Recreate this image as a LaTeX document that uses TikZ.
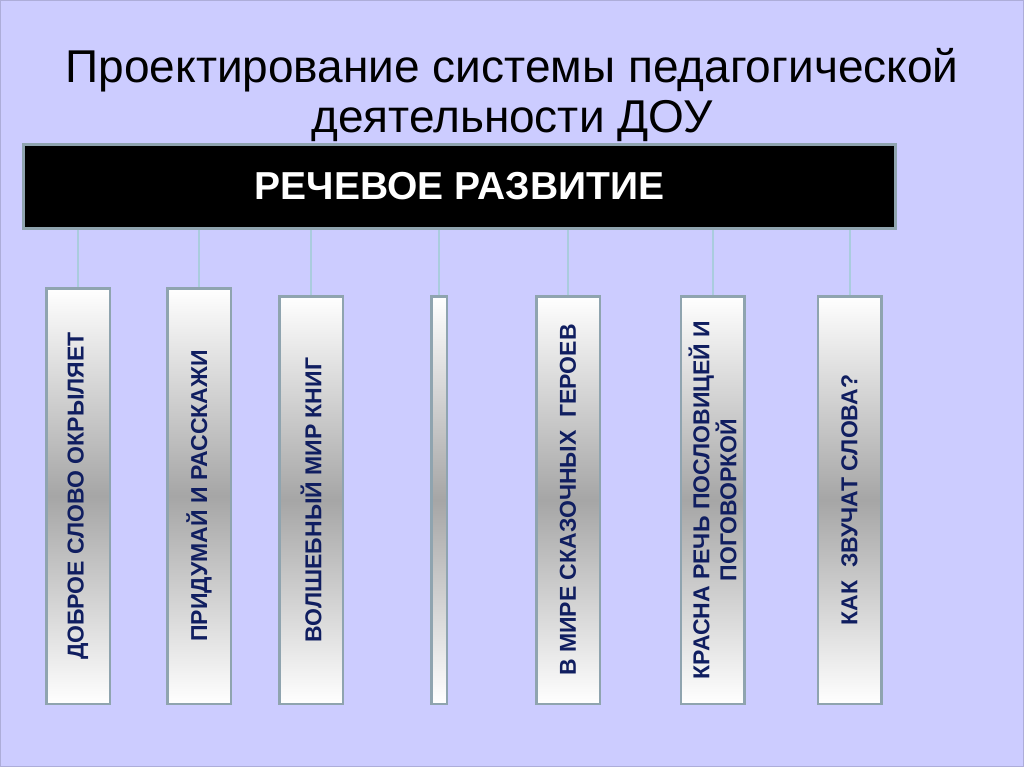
\documentclass[tikz,border=0pt]{standalone}
\usepackage{fontspec}
\setmainfont{Liberation Sans}
\usetikzlibrary{positioning}
\definecolor{slidebg}{RGB}{204,204,255}
\definecolor{frameline}{RGB}{143,164,175}
\definecolor{linkline}{RGB}{170,204,222}
\definecolor{navytext}{RGB}{16,30,96}
\begin{document}
\begin{tikzpicture}[x=1pt, y=-1pt,
    topic/.style={draw=frameline, line width=2.5pt, rotate=90, align=center,
        top color=white, bottom color=white, middle color=black!35,
        text=navytext, font=\fontsize{23}{27}\selectfont\bfseries,
        minimum height=63.5pt, inner sep=0pt},
    link/.style={draw=linkline, line width=2pt}]
    \fill[slidebg] (0,0) rectangle (1024,767);
    \draw[slidebg!85!black, line width=0.8pt] (0.4,0.4) rectangle (1023.6,766.6);
    \node (title_a) [anchor=base, font=\fontsize{46}{50}\selectfont] at (512,83) {Проектирование системы педагогической};
    \node (title_b) [anchor=base, font=\fontsize{46}{50}\selectfont] at (512,133) {деятельности ДОУ};
    \node (speech) [draw=frameline, line width=3pt, fill=black, text=white, minimum width=872pt, minimum height=84pt, font=\fontsize{39}{40}\selectfont\bfseries] at (459.5,186.5) {РЕЧЕВОЕ РАЗВИТИЕ};
    \node (kind_word) [topic, minimum width=415.5pt] at (78,496) {ДОБРОЕ СЛОВО ОКРЫЛЯЕТ};
    \node (invent) [topic, minimum width=415.5pt] at (199,496) {ПРИДУМАЙ И РАССКАЖИ};
    \node (books) [topic, minimum width=407.5pt] at (311,500) {ВОЛШЕБНЫЙ МИР КНИГ};
    \node (blank) [topic, minimum width=407.5pt, minimum height=15.5pt] at (439,500) {};
    \node (heroes) [topic, minimum width=407.5pt] at (568,500) {В МИРЕ СКАЗОЧНЫХ~ ГЕРОЕВ};
    \node (proverbs) [topic, minimum width=407.5pt] at (712.5,500) {КРАСНА РЕЧЬ ПОСЛОВИЦЕЙ И\\ПОГОВОРКОЙ};
    \node (sounds) [topic, minimum width=407.5pt] at (849.5,500) {КАК~ ЗВУЧАТ СЛОВА?};

    \draw[link] (speech.south -| kind_word.east) -- (kind_word.east);
    \draw[link] (speech.south -| invent.east) -- (invent.east);
    \draw[link] (speech.south -| books.east) -- (books.east);
    \draw[link] (speech.south -| blank.east) -- (blank.east);
    \draw[link] (speech.south -| heroes.east) -- (heroes.east);
    \draw[link] (speech.south -| proverbs.east) -- (proverbs.east);
    \draw[link] (speech.south -| sounds.east) -- (sounds.east);
\end{tikzpicture}
\end{document}
